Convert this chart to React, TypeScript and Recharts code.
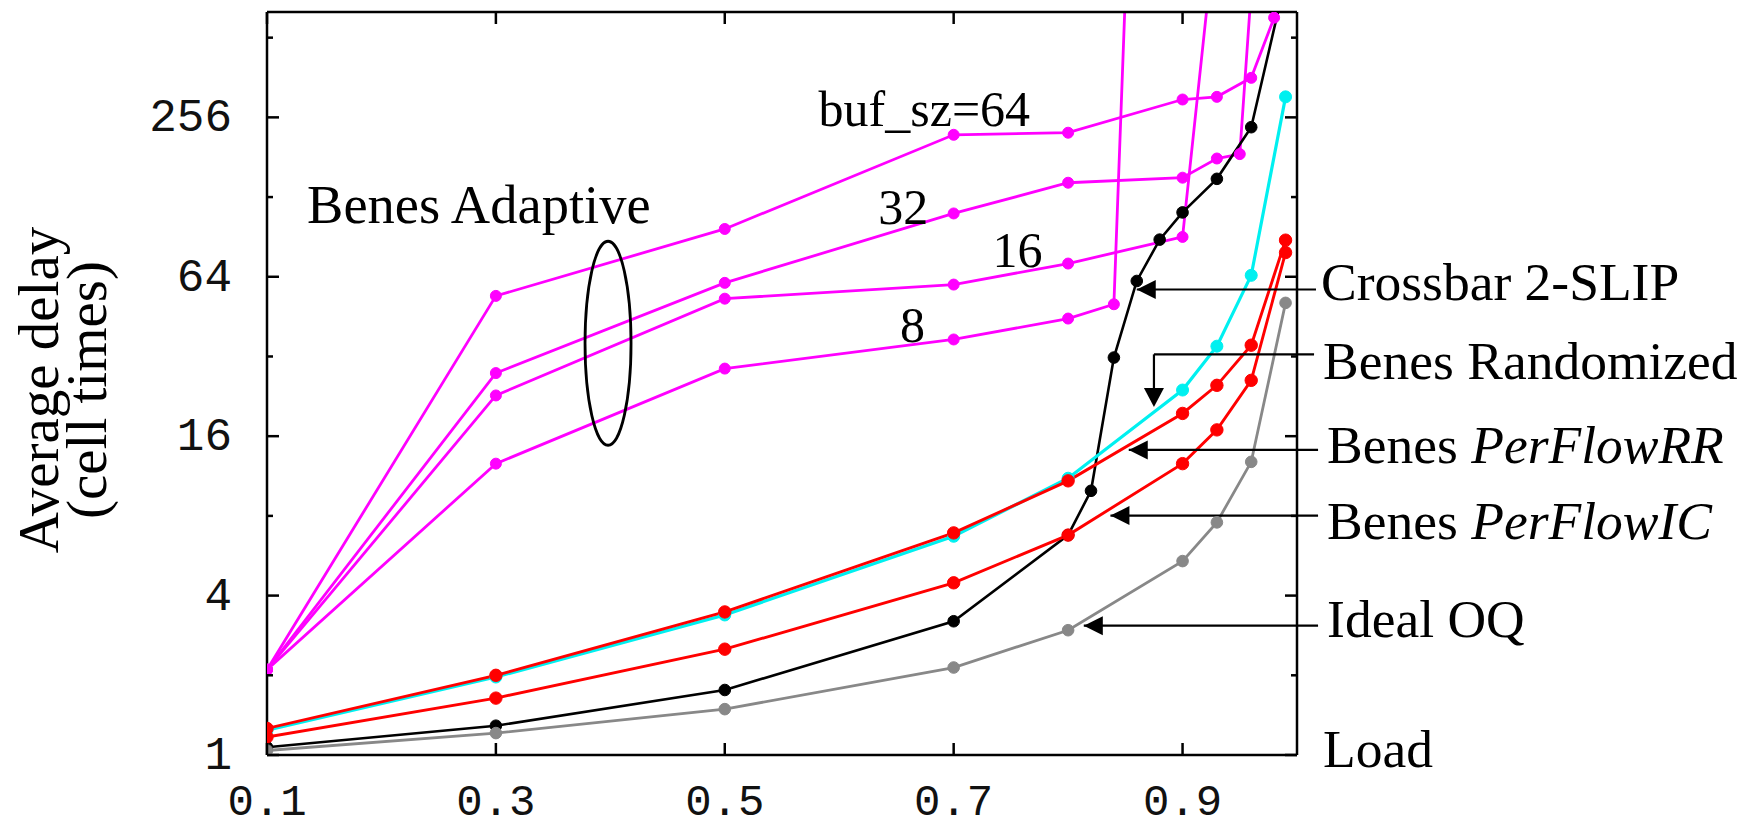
import React from 'react';
import { LineChart, Line, XAxis, YAxis, ReferenceLine, ReferenceDot } from 'recharts';

// ---------- data (load vs average delay, cell times) ----------
const stdLoads = [0.1, 0.3, 0.5, 0.7, 0.8, 0.9, 0.93, 0.96, 0.99];
const idealOqDelay = [1.04, 1.21, 1.49, 2.14, 2.96, 5.4, 7.56, 12.8, 51];
const perFlowIcDelay = [1.17, 1.64, 2.51, 4.47, 6.77, 12.6, 16.9, 26, 79];
const perFlowRrDelay = [1.26, 2.0, 3.47, 6.9, 10.85, 19.5, 24.9, 35.3, 88];
const randomizedDelay = [1.24, 1.97, 3.38, 6.7, 11.1, 23.9, 35, 64.8, 306];

const crossbarLoads = [0.1, 0.3, 0.5, 0.7, 0.8, 0.82, 0.84, 0.86, 0.88, 0.9, 0.93, 0.96, 0.99];
const crossbarDelay = [1.07, 1.29, 1.76, 3.2, 6.77, 9.95, 31.7, 61.7, 88.4, 112, 150, 235, 850];

const buf8Loads = [0.1, 0.3, 0.5, 0.7, 0.8, 0.84, 0.86];
const buf8Delay = [2.1, 12.6, 28.8, 37.1, 44.5, 50.4, 11000];
const buf16Loads = [0.1, 0.3, 0.5, 0.7, 0.8, 0.9, 0.93];
const buf16Delay = [2.1, 22.8, 52.9, 59.8, 71.8, 90.5, 1500];
const buf32Loads = [0.1, 0.3, 0.5, 0.7, 0.8, 0.9, 0.93, 0.95, 0.97];
const buf32Delay = [2.1, 27.7, 60.7, 111, 145, 151.5, 179, 186, 3200];
const buf64Loads = [0.1, 0.3, 0.5, 0.7, 0.8, 0.9, 0.93, 0.96, 0.98];
const buf64Delay = [2.1, 54.2, 97, 220, 224, 299, 306, 361, 609];

const xTicks = [0.1, 0.3, 0.5, 0.7, 0.9];
const yTicks = [1, 2, 4, 8, 16, 32, 64, 128, 256, 512];
const yMajor = [1, 4, 16, 64, 256];

// annotations (data coordinates)
const yTitleLines = [
  { x: -0.0828, y: 23.9, text: 'Average delay' },
  { x: -0.0408, y: 23.9, text: '(cell times)' },
];
const rightLabels = [
  { x: 1.021, y: 52.2, plain: 'Crossbar 2-SLIP', italic: '' },
  { x: 1.0228, y: 26.3, plain: 'Benes Randomized', italic: '' },
  { x: 1.0263, y: 12.7, plain: 'Benes ', italic: 'PerFlowRR' },
  { x: 1.0263, y: 6.54, plain: 'Benes ', italic: 'PerFlowIC' },
  { x: 1.0263, y: 2.79, plain: 'Ideal OQ', italic: '' },
  { x: 1.0228, y: 0.9, plain: 'Load', italic: '' },
];
const plotLabels = [
  { x: 0.135, y: 102, text: 'Benes Adaptive', size: 54.5 },
  { x: 0.582, y: 238, text: 'buf_sz=64', size: 50 },
  { x: 0.634, y: 101, text: '32', size: 50 },
  { x: 0.734, y: 69.5, text: '16', size: 50 },
  { x: 0.653, y: 36.2, text: '8', size: 50 },
];
const arrowSegments = [
  { x1: 1.0166, y1: 57.3, x2: 0.86, y2: 57.3 },
  { x1: 1.0149, y1: 32.6, x2: 0.875, y2: 32.6 },
  { x1: 0.875, y1: 32.6, x2: 0.875, y2: 21.5 },
  { x1: 1.0184, y1: 14.2, x2: 0.853, y2: 14.2 },
  { x1: 1.0184, y1: 8.02, x2: 0.837, y2: 8.02 },
  { x1: 1.0184, y1: 3.08, x2: 0.8137, y2: 3.08 },
];
const arrowHeads = [
  { x: 0.86, y: 57.3, dir: 'left' },
  { x: 0.875, y: 20.6, dir: 'down' },
  { x: 0.853, y: 14.2, dir: 'left' },
  { x: 0.837, y: 8.02, dir: 'left' },
  { x: 0.8137, y: 3.08, dir: 'left' },
];
const ellipseCenter = { x: 0.398, y: 35.9 };

const toPoints = (xs: number[], ys: number[]) => xs.map((x, i) => ({ load: x, delay: ys[i] }));

const series = [
  { key: 'b64', data: toPoints(buf64Loads, buf64Delay), color: '#ff00ff', w: 2.8, r: 5.5 },
  { key: 'b32', data: toPoints(buf32Loads, buf32Delay), color: '#ff00ff', w: 2.8, r: 5.5 },
  { key: 'b16', data: toPoints(buf16Loads, buf16Delay), color: '#ff00ff', w: 2.8, r: 5.5 },
  { key: 'b8', data: toPoints(buf8Loads, buf8Delay), color: '#ff00ff', w: 2.8, r: 5.5 },
  { key: 'xbar', data: toPoints(crossbarLoads, crossbarDelay), color: '#000000', w: 2.6, r: 5.8 },
  { key: 'oq', data: toPoints(stdLoads, idealOqDelay), color: '#888888', w: 2.8, r: 5.8 },
  { key: 'rand', data: toPoints(stdLoads, randomizedDelay), color: '#00f0f0', w: 3.2, r: 6 },
  { key: 'rr', data: toPoints(stdLoads, perFlowRrDelay), color: '#ff0000', w: 2.9, r: 6.2 },
  { key: 'ic', data: toPoints(stdLoads, perFlowIcDelay), color: '#ff0000', w: 2.9, r: 6.2 },
];

const SERIF = '"Liberation Serif", "Times New Roman", Times, serif';
const MONO = '"Liberation Mono", "DejaVu Sans Mono", monospace';

const LeftTick = (p: any) => {
  const { x, y, payload } = p;
  const major = yMajor.includes(payload.value);
  return (
    <g>
      <line x1={x} x2={x + (major ? 12 : 6)} y1={y} y2={y} stroke="#000" strokeWidth={2.5} />
      {major && (
        <text x={x - 35} y={y + 2} textAnchor="end" dominantBaseline="central"
          style={{ fontFamily: MONO, fontSize: 46 }} fill="#111">
          {payload.value}
        </text>
      )}
    </g>
  );
};
const RightTick = (p: any) => {
  const { x, y, payload } = p;
  const major = yMajor.includes(payload.value);
  return <line x1={x} x2={x - (major ? 12 : 6)} y1={y} y2={y} stroke="#000" strokeWidth={2.5} />;
};
const BottomTick = (p: any) => {
  const { x, y, payload } = p;
  return (
    <g>
      <line x1={x} x2={x} y1={y} y2={y - 12} stroke="#000" strokeWidth={2.5} />
      <text x={x} y={y + 60} textAnchor="middle" style={{ fontFamily: MONO, fontSize: 44 }} fill="#111">
        {String(payload.value)}
      </text>
    </g>
  );
};
const TopTick = (p: any) => {
  const { x, y } = p;
  return <line x1={x} x2={x} y1={y} y2={y + 12} stroke="#000" strokeWidth={2.5} />;
};

const axisLine = { stroke: '#000', strokeWidth: 2.5 };

export default function App() {
  return (
    <div style={{ width: 1748, height: 820, background: '#fff' }}>
      <LineChart width={1748} height={820} margin={{ top: 3, right: 458, bottom: 13, left: 159 }}>
        <XAxis xAxisId="b" type="number" dataKey="load" domain={[0.1, 1.0]} ticks={xTicks} allowDataOverflow
          tickSize={0} tickMargin={0} tickLine={false} axisLine={axisLine} tick={<BottomTick />} height={60} interval={0} />
        <XAxis xAxisId="t" orientation="top" type="number" dataKey="load" domain={[0.1, 1.0]} ticks={xTicks} allowDataOverflow
          tickSize={0} tickMargin={0} tickLine={false} axisLine={axisLine} tick={<TopTick />} height={1} interval={0} />
        <YAxis yAxisId="l" type="number" scale="log" domain={[1, 640]} ticks={yTicks} allowDataOverflow
          tickSize={0} tickMargin={0} tickLine={false} axisLine={axisLine} tick={<LeftTick />} width={100} interval={0} />
        <YAxis yAxisId="r" orientation="right" type="number" scale="log" domain={[1, 640]} ticks={yTicks} allowDataOverflow
          tickSize={0} tickMargin={0} tickLine={false} axisLine={axisLine} tick={<RightTick />} width={1} interval={0} />

        {series.map((s) => (
          <Line key={s.key} xAxisId="b" yAxisId="l" data={s.data} dataKey="delay" type="linear"
            stroke={s.color} strokeWidth={s.w} isAnimationActive={false}
            dot={{ r: s.r, fill: s.color, stroke: s.color, strokeWidth: 1 }} activeDot={false} />
        ))}

        <ReferenceDot xAxisId="b" yAxisId="l" x={ellipseCenter.x} y={ellipseCenter.y} ifOverflow="visible"
          shape={(p: any) => <ellipse cx={p.cx} cy={p.cy} rx={23} ry={102} fill="none" stroke="#000" strokeWidth={2.8} />} />

        {arrowSegments.map((a, i) => (
          <ReferenceLine key={'seg' + i} xAxisId="b" yAxisId="l" ifOverflow="visible"
            segment={[{ x: a.x1, y: a.y1 }, { x: a.x2, y: a.y2 }]} stroke="#000" strokeWidth={2.2} />
        ))}
        {arrowHeads.map((h, i) => (
          <ReferenceDot key={'ah' + i} xAxisId="b" yAxisId="l" x={h.x} y={h.y} ifOverflow="visible"
            shape={(p: any) => {
              const { cx, cy } = p;
              const pts = h.dir === 'left'
                ? `${cx},${cy} ${cx + 19},${cy - 9.5} ${cx + 19},${cy + 9.5}`
                : `${cx},${cy} ${cx - 10},${cy - 19} ${cx + 10},${cy - 19}`;
              return <polygon points={pts} fill="#000" />;
            }} />
        ))}

        {yTitleLines.map((l, i) => (
          <ReferenceDot key={'yt' + i} xAxisId="b" yAxisId="l" x={l.x} y={l.y} ifOverflow="visible"
            shape={(p: any) => (
              <text x={p.cx} y={p.cy} textAnchor="middle" style={{ fontFamily: SERIF, fontSize: 57 }} fill="#000"
                transform={`rotate(-90, ${p.cx}, ${p.cy})`}>{l.text}</text>
            )} />
        ))}
        {rightLabels.map((l, i) => (
          <ReferenceDot key={'rl' + i} xAxisId="b" yAxisId="l" x={l.x} y={l.y} ifOverflow="visible"
            shape={(p: any) => (
              <text x={p.cx} y={p.cy} style={{ fontFamily: SERIF, fontSize: 53.5 }} fill="#000">
                <tspan>{l.plain}</tspan>
                {l.italic && <tspan style={{ fontStyle: 'italic' }}>{l.italic}</tspan>}
              </text>
            )} />
        ))}
        {plotLabels.map((l, i) => (
          <ReferenceDot key={'pl' + i} xAxisId="b" yAxisId="l" x={l.x} y={l.y} ifOverflow="visible"
            shape={(p: any) => (
              <text x={p.cx} y={p.cy} style={{ fontFamily: SERIF, fontSize: l.size }} fill="#000">{l.text}</text>
            )} />
        ))}
      </LineChart>
    </div>
  );
}
